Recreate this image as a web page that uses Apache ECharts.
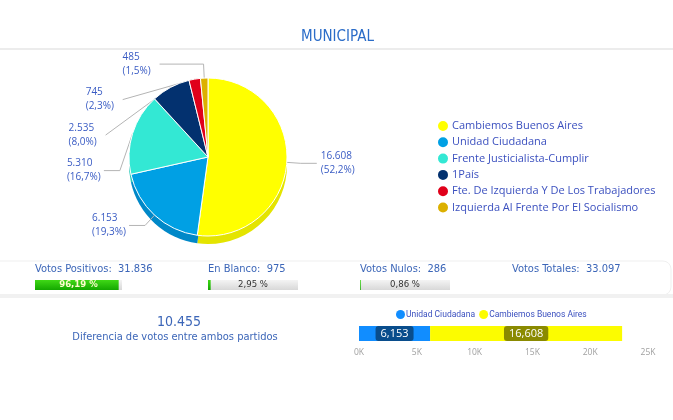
<!DOCTYPE html>
<html><head><meta charset="utf-8">
<script src="https://cdn.jsdelivr.net/npm/echarts@6/dist/echarts.min.js"></script>
<style>html,body{margin:0;padding:0;background:#fff}#c{width:673px;height:420px}</style>
</head><body><div id="c"></div>
<script>
// ---- data ----
const parties = ['Cambiemos Buenos Aires','Unidad Ciudadana','Frente Justicialista-Cumplir','1País','Fte. De Izquierda Y De Los Trabajadores','Izquierda Al Frente Por El Socialismo'];
const votes = [16608, 6153, 5310, 2535, 745, 485];
const partyColors = ['#ffff00','#00a0e4','#33e8d4','#03316f','#e0001a','#dcb000'];
const sideColors = ['#e4e400','#0088c8','#2bc9b8','#022656','#b80016','#b89400'];
const statLabels = ['Votos Positivos:','En Blanco:','Votos Nulos:','Votos Totales:'];
const statValues = [31836, 975, 286, 33097];
const statPercents = [96.19, 2.95, 0.86];
const compareParties = ['Unidad Ciudadana ','Cambiemos Buenos Aires '];
const compareVotes = [6153, 16608];
const compareColors = ['#118dff','#fcfc00'];
const diffVotes = 10455;

const fmtDot = v => String(v).replace(/\B(?=(\d{3})+(?!\d))/g, '.');
const fmtComma = v => String(v).replace(/\B(?=(\d{3})+(?!\d))/g, ',');
const total = votes.reduce((a,b)=>a+b,0);

const chart = echarts.init(document.getElementById('c'));

const statX = [35, 208, 360, 512];
const barW = [87, 90, 90];

const grids = [], xAxes = [], yAxes = [], series = [];
statPercents.forEach((p,i)=>{
  grids.push({left: statX[i], top: 280, width: barW[i], height: 10});
  xAxes.push({type:'value', gridIndex:i, min:0, max:100, show:false});
  yAxes.push({type:'category', gridIndex:i, data:['x'], show:false});
  series.push({
    type:'bar', xAxisIndex:i, yAxisIndex:i, barWidth:10, silent:true,
    showBackground:true,
    backgroundStyle:{color:new echarts.graphic.LinearGradient(0,0,0,1,[{offset:0,color:'#f4f4f4'},{offset:1,color:'#d8d8d8'}])},
    itemStyle:{color:new echarts.graphic.LinearGradient(0,0,0,1,[{offset:0,color:'#3fd816'},{offset:1,color:'#14a800'}])},
    data:[p]
  });
  series.push({
    type:'bar', xAxisIndex:i, yAxisIndex:i, barWidth:10, barGap:'-100%', silent:true,
    itemStyle:{color:'rgba(0,0,0,0)'},
    label:{show:true, position:'inside', formatter: () => p.toFixed(2).replace('.',',') + ' %',
      fontFamily:'DejaVu Sans Condensed', fontSize:9.5, fontWeight: i===0 ? 'bold' : 'normal',
      color: i===0 ? '#fffbd0' : '#333', textBorderWidth:0},
    data:[100]
  });
});
const gi = statPercents.length;
grids.push({left:359, top:326, width:289, height:15});
xAxes.push({type:'value', gridIndex:gi, min:0, max:25000, interval:5000,
  axisLine:{show:false}, axisTick:{show:false}, splitLine:{show:false},
  axisLabel:{color:'#a0a0a0', fontSize:8.5, fontFamily:'Open Sans', margin:7, formatter: v => (v/1000)+'K'}});
yAxes.push({type:'category', gridIndex:gi, data:['x'], show:false});
compareParties.forEach((name,i)=>{
  series.push({
    type:'bar', name, xAxisIndex:gi, yAxisIndex:gi, stack:'s', barWidth:15,
    itemStyle:{color:compareColors[i]},
    label:{show:true, position:'inside', formatter: p => fmtComma(p.value), color:'#fff',
      fontFamily:'Open Sans', fontSize:11, backgroundColor:'rgba(0,0,0,0.45)', borderRadius:3,
      padding:[2,5,1,5], lineHeight:12},
    data:[compareVotes[i]]
  });
});
series.push({
  type:'pie', center:[208,165], radius:79, startAngle:90, silent:true, z:1,
  label:{show:false}, labelLine:{show:false},
  itemStyle:{borderColor:'rgba(0,0,0,0)'},
  data: votes.map((v,i)=>({value:v, name:'side'+i, itemStyle:{color:sideColors[i]}}))
});
series.push({
  type:'pie', name:'MUNICIPAL', center:[208,157], radius:79, startAngle:90, z:2,
  itemStyle:{borderColor:'#fff', borderWidth:1},
  label:{
    formatter: p => '{s| }\n{a|' + fmtDot(p.value) + '}\n{a|(' + (p.value/total*100).toFixed(1).replace('.',',') + '%)}\n{s| }',
    distanceToLabelLine:4,
    rich:{a:{width:33, align:'left', fontFamily:'Open Sans', fontSize:10, color:'#3a5cc4', lineHeight:14},
          s:{fontSize:2, lineHeight:3.5}}
  },
  labelLine:{length:14, length2:16, lineStyle:{color:'#b4b4b4', width:1}},
  data: votes.map((v,i)=>{
    const d = {value:v, name:parties[i], itemStyle:{color:partyColors[i]}};
    if (i === votes.length - 1) d.labelLine = {length2:44};
    return d;
  })
});

chart.setOption({
  animation:false,
  title:{text:'MUNICIPAL', left:296, top:25,
    textStyle:{fontFamily:'DejaVu Sans Condensed', fontWeight:'normal', fontSize:15, color:'#2a6cc8'}},
  legend:[
    {data:parties, orient:'vertical', left:431, top:114, icon:'circle', itemWidth:12, itemHeight:12, itemGap:2.3,
     textStyle:{fontFamily:'Open Sans', fontSize:11, color:'#3b50bf', padding:[0,0,0,-2]}},
    {data:compareParties, left:391, top:305, icon:'circle', itemWidth:9, itemHeight:9, itemGap:2,
     textStyle:{fontFamily:'Roboto', fontSize:8.5, color:'#3b50bf', padding:[0,0,0,-4]}}
  ],
  grid:grids, xAxis:xAxes, yAxis:yAxes, series,
  graphic:[
    {type:'rect', shape:{x:0,y:48,width:673,height:2}, style:{fill:'#ececec'}, silent:true},
    {type:'rect', shape:{x:-10,y:261,width:681,height:34,r:8}, style:{fill:'#fff', stroke:'#efefef', lineWidth:1}, silent:true, z:-1},
    {type:'rect', shape:{x:0,y:294,width:673,height:4}, style:{fill:'#f1f1f1'}, silent:true, z:-1},
    ...statLabels.map((t,i)=>({type:'text', x:statX[i], y:264, silent:true,
      style:{text:t + '  ' + fmtDot(statValues[i]), fontFamily:'DejaVu Sans Condensed', fontSize:11, fill:'#3c66b8'}})),
    {type:'text', x:179, y:315, silent:true,
      style:{text:fmtDot(diffVotes), align:'center', fontFamily:'DejaVu Sans Condensed', fontSize:14, fill:'#3c66b8'}},
    {type:'text', x:175, y:332, silent:true,
      style:{text:'Diferencia de votos entre ambos partidos', align:'center', fontFamily:'DejaVu Sans Condensed', fontSize:11, fill:'#3c66b8'}}
  ]
});
</script></body></html>
